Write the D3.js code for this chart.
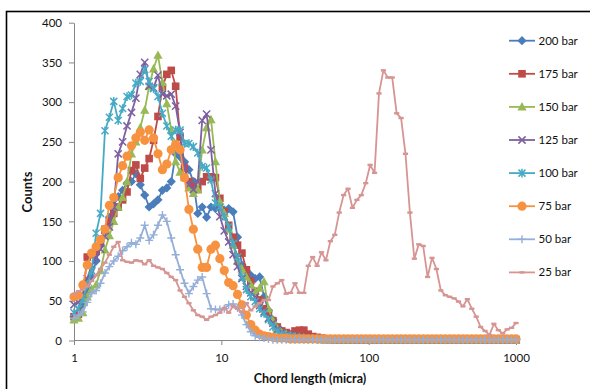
<!DOCTYPE html>
<html><head><meta charset="utf-8">
<script src="https://cdn.jsdelivr.net/npm/d3@7/dist/d3.min.js"></script>
<style>
body{margin:0;background:#fff;}
svg{display:block;font-family:Lato,"Open Sans",sans-serif;}
</style></head><body>
<svg id="chart" width="590" height="389"></svg>
<script>
// ---------- DATA ----------
const chordLength = [1,1.072,1.148,1.23,1.318,1.413,1.514,1.622,1.738,1.862,
1.995,2.138,2.291,2.455,2.63,2.818,3.02,3.236,3.467,3.715,
3.981,4.266,4.571,4.898,5.248,5.623,6.026,6.457,6.918,7.413,
7.943,8.511,9.12,9.772,10.47,11.22,12.02,12.88,13.8,14.79,
15.85,16.98,18.2,19.5,20.89,22.39,23.99,25.7,27.54,29.51,
31.62,33.88,36.31,38.9,41.69,44.67,47.86,51.29,54.95,58.88,
63.1,67.61,72.44,77.62,83.18,89.13,95.5,102.3,109.6,117.5,
125.9,134.9,144.5,154.9,166,177.8,190.5,204.2,218.8,234.4,
251.2,269.2,288.4,309,331.1,354.8,380.2,407.4,436.5,467.7,
501.2,537,575.4,616.6,660.7,707.9,758.6,812.8,871,933.3,
1000];

const seriesNames = ["200 bar","175 bar","150 bar","125 bar","100 bar","75 bar","50 bar","25 bar"];

const s200 = [30,33,45,60,80,100,120,140,155,170,
181,189,198,200,210,196,183,168,172,177,
189,192,200,235,231,225,215,200,160,168,
155,168,166,168,164,166,162,130,95,88,
82,78,80,55,38,26,17,12,9,7,
5,4,3,3,2,2,2,1,1,1,
1,1,1,1,1,1,1,1,1,1,
1,1,1,1,1,1,1,1,1,1,
1,1,1,1,1,1,1,1,1,1,
1,1,1,1,1,1,1,1,1,1,
1];
const s175 = [30,33,55,105,108,112,125,140,150,160,
168,177,187,214,221,204,217,229,252,282,
319,335,340,320,256,217,200,194,190,200,
206,206,205,179,162,145,130,120,110,89,
75,62,51,40,34,25,17,12,10,8,
12,13,13,8,5,4,3,2,2,1,
1,1,1,1,1,1,1,1,1,1,
1,1,1,1,1,1,1,1,1,1,
1,1,1,1,1,1,1,1,1,1,
1,1,1,1,1,1,1,1,1,1,
1];
const s150 = [26,28,35,55,65,70,88,114,132,150,
168,180,200,235,250,268,290,320,342,359,
325,298,265,225,212,205,192,185,190,240,
268,278,225,175,160,140,120,100,90,80,
70,62,66,74,40,25,15,10,8,6,
5,4,3,2,2,2,1,1,1,1,
1,1,1,1,1,1,1,1,1,1,
1,1,1,1,1,1,1,1,1,1,
1,1,1,1,1,1,1,1,1,1,
1,1,1,1,1,1,1,1,1,1,
1];
const s125 = [45,48,58,78,95,105,115,131,143,168,
235,250,270,287,305,335,350,320,318,334,
310,308,310,295,262,220,196,190,200,277,
285,240,185,156,138,124,108,93,78,68,
60,55,44,36,28,22,14,10,8,6,
5,4,3,3,2,2,2,1,1,1,
1,1,1,1,1,1,1,1,1,1,
1,1,1,1,1,1,1,1,1,1,
1,1,1,1,1,1,1,1,1,1,
1,1,1,1,1,1,1,1,1,1,
1];
const s100 = [35,40,52,70,88,135,160,264,281,301,
277,292,307,309,324,326,341,326,317,307,
286,270,257,265,265,248,248,244,236,219,
217,202,173,168,156,143,122,105,80,64,
55,49,40,34,26,17,12,8,6,5,
4,3,3,2,2,2,1,1,1,1,
1,1,1,1,1,1,1,1,1,1,
1,1,1,1,1,1,1,1,1,1,
1,1,1,1,1,1,1,1,1,1,
1,1,1,1,1,1,1,1,1,1,
1];
const s75 = [55,57,70,95,110,118,127,140,170,180,
205,220,232,245,255,262,252,265,255,235,
215,222,240,247,240,205,165,140,115,92,
92,115,120,103,88,73,69,58,45,32,
20,13,8,6,5,4,3,3,3,2,
2,2,2,2,2,2,2,2,2,2,
2,2,2,2,2,2,2,2,2,2,
2,2,2,2,2,2,2,2,2,2,
2,2,2,2,2,2,2,2,2,2,
2,2,2,2,2,2,2,2,2,2,
2];
const s50 = [28,32,36,48,59,63,72,85,93,100,
106,113,118,123,121,129,145,126,133,145,
158,150,129,108,89,72,59,68,76,80,
59,40,39,39,40,45,46,41,32,20,
11,6,4,3,2,1,1,1,1,1,
1,1,1,1,1,1,1,1,1,1,
1,1,1,1,1,1,1,1,1,1,
1,1,1,1,1,1,1,1,1,1,
1,1,1,1,1,1,1,1,1,1,
1,1,1,1,1,1,1,1,1,1,
1];
const s25 = [58,62,64,68,75,82,90,98,108,118,
124,101,99,98,101,100,96,101,94,92,
90,85,80,76,63,55,47,38,32,30,
26,30,32,35,41,35,43,40,36,47,
38,43,47,51,51,68,72,76,59,60,
72,60,60,94,105,94,111,101,125,133,
161,183,191,167,177,183,198,221,211,311,
340,331,331,286,280,235,161,103,121,119,
80,104,90,63,57,55,53,49,43,52,
40,30,17,12,7,21,13,9,14,16,
22];

const yTicks = [0,50,100,150,200,250,300,350,400];
const xTicks = [1,10,100,1000];
const xTitle = "Chord length (micra)";
const yTitle = "Counts";

// ---------- STYLE ----------
const seriesValues = [s200,s175,s150,s125,s100,s75,s50,s25];
const seriesColors = ["#4A7EBB","#BE4B48","#98B954","#7D60A0","#46AAC5","#F69240","#95AFD8","#D69593"];
const seriesMarkers = ["diamond","square","triangle","x","star","circle","plus","dash"];

const svg = d3.select("#chart");

// outer border
svg.append("rect").attr("x",6.5).attr("y",11.5).attr("width",640).attr("height",440)
  .attr("fill","none").attr("stroke","#000").attr("stroke-width",1.6);

const x = d3.scaleLog().domain([1,1000]).range([74,516]);
const y = d3.scaleLinear().domain([0,400]).range([340.5,22.7]);

const axisColor = "#868686";

const yAxis = svg.append("g").attr("transform","translate(74,0)")
  .call(d3.axisLeft(y).tickValues(yTicks).tickSize(5).tickSizeOuter(0).tickPadding(7).tickFormat(d3.format("d")));
const xAxis = svg.append("g").attr("transform","translate(0,340)")
  .call(d3.axisBottom(x).tickValues(xTicks).tickSize(5).tickSizeOuter(0).tickPadding(9).tickFormat(d3.format("d")));
[yAxis,xAxis].forEach(a=>{
  a.select(".domain").attr("stroke",axisColor);
  a.selectAll(".tick line").attr("stroke",axisColor);
  a.selectAll(".tick text").attr("fill","#111").attr("font-size",11.5).attr("font-family","Lato, 'Open Sans', sans-serif");
});

svg.append("text").attr("x",310).attr("y",383).attr("text-anchor","middle")
  .attr("font-weight","bold").attr("font-size",12.5).attr("fill","#111").text(xTitle);
svg.append("text").attr("transform","translate(32,192) rotate(-90)").attr("text-anchor","middle")
  .attr("font-weight","bold").attr("font-size",13).attr("fill","#111").text(yTitle);

function drawMarker(g, type, color, cx, cy){
  switch(type){
    case "diamond":
      g.append("path").attr("d",`M${cx},${cy-4.6}L${cx+4.6},${cy}L${cx},${cy+4.6}L${cx-4.6},${cy}Z`).attr("fill",color); break;
    case "square":
      g.append("rect").attr("x",cx-3.8).attr("y",cy-3.8).attr("width",7.6).attr("height",7.6).attr("fill",color); break;
    case "triangle":
      g.append("path").attr("d",`M${cx},${cy-4.8}L${cx+4.6},${cy+3.6}L${cx-4.6},${cy+3.6}Z`).attr("fill",color); break;
    case "x":
      g.append("path").attr("d",`M${cx-3.6},${cy-3.6}L${cx+3.6},${cy+3.6}M${cx+3.6},${cy-3.6}L${cx-3.6},${cy+3.6}`)
        .attr("stroke",color).attr("stroke-width",1.5).attr("fill","none"); break;
    case "star":
      g.append("path").attr("d",`M${cx-3.5},${cy-3.5}L${cx+3.5},${cy+3.5}M${cx+3.5},${cy-3.5}L${cx-3.5},${cy+3.5}M${cx},${cy-4.3}L${cx},${cy+4.3}`)
        .attr("stroke",color).attr("stroke-width",1.5).attr("fill","none"); break;
    case "circle":
      g.append("circle").attr("cx",cx).attr("cy",cy).attr("r",4.6).attr("fill",color); break;
    case "plus":
      g.append("path").attr("d",`M${cx-4},${cy}L${cx+4},${cy}M${cx},${cy-4}L${cx},${cy+4}`)
        .attr("stroke",color).attr("stroke-width",1.4).attr("fill","none"); break;
    case "dash":
      g.append("rect").attr("x",cx-2.6).attr("y",cy-1.2).attr("width",5.2).attr("height",2.4).attr("fill",color); break;
  }
}

const line = d3.line().x(d=>x(d[0])).y(d=>y(d[1]));

seriesValues.forEach((vals,k)=>{
  const pts = vals.map((v,i)=>[chordLength[i],v]).filter(p=>p[0]!==undefined);
  const g = svg.append("g");
  g.append("path").attr("d",line(pts)).attr("fill","none").attr("stroke",seriesColors[k])
    .attr("stroke-width",1.8).attr("stroke-linejoin","round");
  pts.forEach(p=>drawMarker(g, seriesMarkers[k], seriesColors[k], x(p[0]), y(p[1])));
});

// legend
const lg = svg.append("g");
seriesNames.forEach((name,k)=>{
  const cy = 40.7 + k*33.1;
  lg.append("line").attr("x1",509).attr("x2",535).attr("y1",cy).attr("y2",cy)
    .attr("stroke",seriesColors[k]).attr("stroke-width",1.8);
  drawMarker(lg, seriesMarkers[k], seriesColors[k], 522, cy);
  lg.append("text").attr("x",538.5).attr("y",cy).attr("dy","0.35em").attr("font-size",11.5)
    .attr("fill","#111").text(name);
});
</script>
</body></html>
